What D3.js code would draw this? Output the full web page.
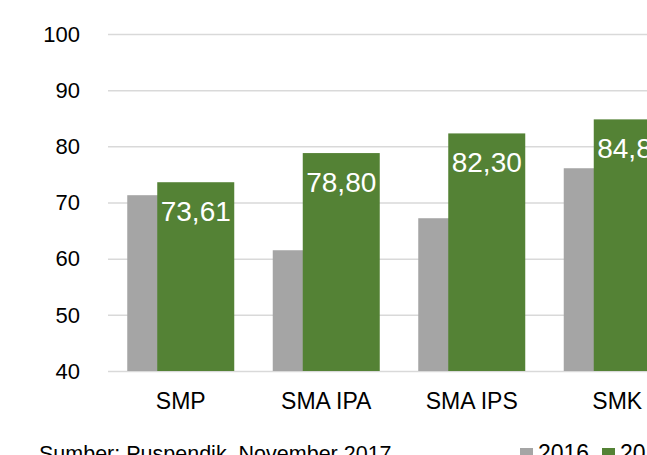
<!DOCTYPE html>
<html>
<head>
<meta charset="utf-8">
<script src="https://cdn.jsdelivr.net/npm/d3@7"></script>
<style>
  html, body { margin: 0; padding: 0; background: #fff; overflow: hidden; }
  svg { display: block; font-family: "Liberation Sans", Arial, sans-serif; }
</style>
</head>
<body>
<div id="chart"></div>
<script>
const categories = ['SMP', 'SMA IPA', 'SMA IPS', 'SMK'];
const series = ['2016', '2017'];
const values2016 = [71.3, 61.5, 67.2, 76.1];
const values2017 = [73.61, 78.80, 82.30, 84.80];
const yTicks = [40, 50, 60, 70, 80, 90, 100];
const source = 'Sumber: Puspendik, November 2017';

const width = 647;
const height = 455;
const colors = { '2016': '#a5a5a5', '2017': '#548235' };

const svg = d3.select('#chart').append('svg')
  .attr('width', width).attr('height', height);

const y = d3.scaleLinear().domain([40, 100]).range([371, 34]);
const x = d3.scaleBand().domain(categories).range([108, 108 + 4 * 145.5]);
const bw = x.bandwidth();
const barW = 77;
const shift = 30;
const groupW = barW + shift;

// gridlines
svg.append('g')
  .attr('transform', 'translate(108,0)')
  .call(d3.axisLeft(y).tickValues(yTicks).tickSize(-(width)).tickFormat(''))
  .call((g) => g.select('.domain').remove())
  .call((g) => g.selectAll('line').attr('stroke', '#d9d9d9').attr('stroke-width', 1.5));

// y labels
svg.append('g').selectAll('text').data(yTicks).join('text')
  .attr('x', 80).attr('y', (d) => y(d)).attr('dy', '0.35em')
  .attr('text-anchor', 'end').attr('font-size', 22).attr('fill', '#000')
  .text((d) => d);

const rows = categories.map((c, i) => ({ c, a: values2016[i], b: values2017[i] }));
const gx = (c) => x(c) + (bw - groupW) / 2;

svg.append('g').selectAll('rect').data(rows).join('rect')
  .attr('x', (d) => gx(d.c)).attr('y', (d) => y(d.a))
  .attr('width', barW).attr('height', (d) => y(40) - y(d.a))
  .attr('fill', colors['2016']);

svg.append('g').selectAll('rect').data(rows).join('rect')
  .attr('x', (d) => gx(d.c) + shift).attr('y', (d) => y(d.b))
  .attr('width', barW).attr('height', (d) => y(40) - y(d.b))
  .attr('fill', colors['2017']);

svg.append('g').selectAll('text').data(rows).join('text')
  .attr('x', (d) => gx(d.c) + shift + barW / 2).attr('y', (d) => y(d.b) + 39)
  .attr('text-anchor', 'middle').attr('font-size', 28).attr('fill', '#fff')
  .text((d) => d3.format('.2f')(d.b).replace('.', ','));

// category labels
svg.append('g').selectAll('text').data(categories).join('text')
  .attr('x', (d) => x(d) + bw / 2).attr('y', 409)
  .attr('text-anchor', 'middle').attr('font-size', 23).attr('fill', '#000')
  .text((d) => d);

svg.append('text').attr('x', 39).attr('y', 461)
  .attr('font-size', 21.5).attr('fill', '#000').text(source);

const legend = svg.append('g').selectAll('g').data(series).join('g')
  .attr('transform', (d, i) => `translate(${520 + i * 82},448)`);
legend.append('rect').attr('width', 13).attr('height', 13).attr('fill', (d) => colors[d]);
legend.append('text').attr('x', 18).attr('y', 13).attr('font-size', 23).attr('fill', '#000').text((d) => d);
</script>
</body>
</html>
